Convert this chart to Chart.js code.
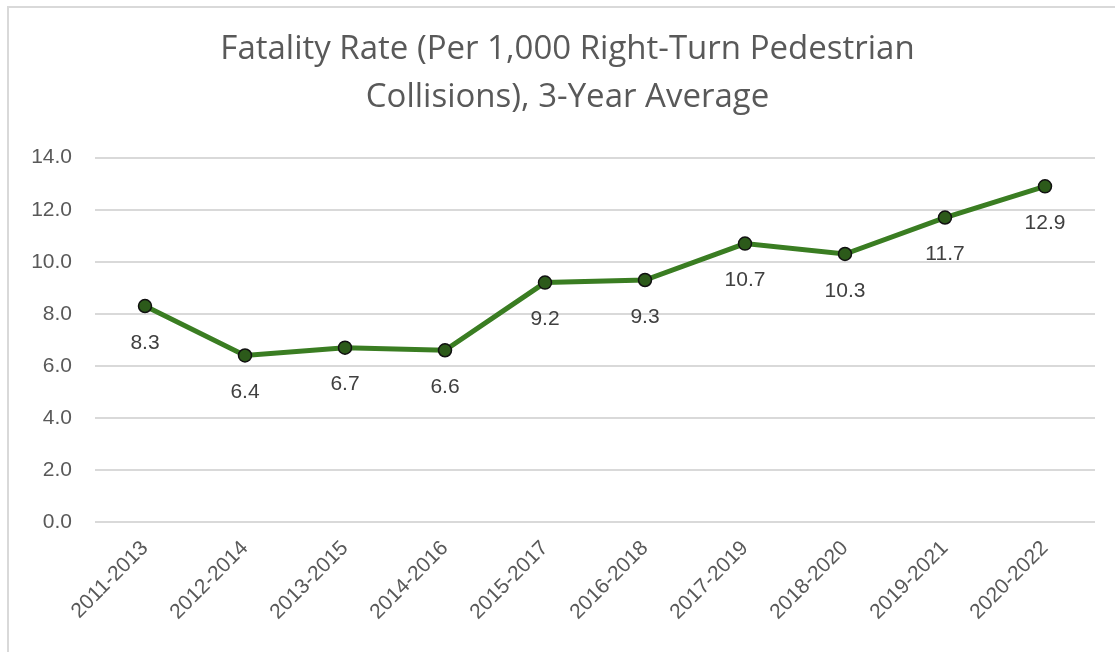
<!DOCTYPE html>
<html>
<head>
<meta charset="utf-8">
<title>Fatality Rate</title>
<script src="https://cdn.jsdelivr.net/npm/chart.js"></script>
<style>
  html, body { margin: 0; padding: 0; background: #fff; overflow: hidden; }
  #frame {
    position: absolute; left: 7px; top: 6px; width: 1200px; height: 700px;
    border-top: 2px solid #d9d9d9; border-left: 2px solid #d9d9d9;
  }
  #wrap { position: absolute; left: 0; top: 0; width: 1115px; height: 652px; }
</style>
</head>
<body>
<div id="frame"></div>
<div id="wrap"><canvas id="myChart" width="1115" height="652"></canvas></div>
<script>
const periods = ['2011-2013', '2012-2014', '2013-2015', '2014-2016', '2015-2017',
  '2016-2018', '2017-2019', '2018-2020', '2019-2021', '2020-2022']
const fatalityRate = [8.3, 6.4, 6.7, 6.6, 9.2, 9.3, 10.7, 10.3, 11.7, 12.9]
const titleLines = ['Fatality Rate (Per 1,000 Right-Turn Pedestrian', 'Collisions), 3-Year Average']

// etiquetas de datos debajo de cada punto
const pointLabels = {
  id: 'pointLabels',
  afterDatasetsDraw (chart) {
    const ctx = chart.ctx
    const meta = chart.getDatasetMeta(0)
    ctx.save()
    ctx.font = '21px "Liberation Sans", Arial, sans-serif'
    ctx.fillStyle = '#404040'
    ctx.textAlign = 'center'
    ctx.textBaseline = 'middle'
    meta.data.forEach((pt, i) => {
      ctx.fillText(fatalityRate[i].toFixed(1), pt.x, pt.y + 37)
    })
    ctx.restore()
  }
}

const ctx = document.getElementById('myChart').getContext('2d')
const myChart = new Chart(ctx, {
  type: 'line',
  data: {
    labels: periods,
    datasets: [{
      data: fatalityRate,
      borderColor: '#3a7d22',
      borderWidth: 5,
      pointBackgroundColor: '#2c5a1a',
      pointBorderColor: '#111',
      pointBorderWidth: 1.5,
      pointRadius: 6.5,
      tension: 0
    }]
  },
  options: {
    responsive: false,
    animation: false,
    layout: { padding: { left: 20, right: 0, top: 0, bottom: 0 } },
    plugins: {
      legend: { display: false },
      tooltip: { enabled: false },
      title: {
        display: true,
        text: titleLines,
        color: '#595959',
        font: { family: '"Open Sans", sans-serif', size: 33, weight: 'normal', lineHeight: 1.45 },
        padding: { top: 26, bottom: 36 }
      }
    },
    scales: {
      x: {
        offset: true,
        grid: { display: false },
        border: { display: false },
        ticks: {
          color: '#595959',
          font: { family: '"Liberation Sans", Arial, sans-serif', size: 21 },
          maxRotation: 45,
          minRotation: 45,
          padding: 6
        },
        afterFit (scale) { scale.height = 130 }
      },
      y: {
        min: 0,
        max: 14,
        grid: { color: '#d9d9d9', lineWidth: 2, drawTicks: false },
        border: { display: false },
        ticks: {
          stepSize: 2,
          color: '#595959',
          font: { family: '"Liberation Sans", Arial, sans-serif', size: 21 },
          padding: 23,
          callback: v => v.toFixed(1)
        },
        afterFit (scale) { scale.width = 75 }
      },
      // eje vacío a la derecha para dejar el margen
      y2: {
        type: 'linear',
        position: 'right',
        grid: { display: false },
        border: { display: false },
        ticks: { display: false },
        afterFit (scale) { scale.width = 20 }
      }
    }
  },
  plugins: [pointLabels]
})
</script>
</body>
</html>
